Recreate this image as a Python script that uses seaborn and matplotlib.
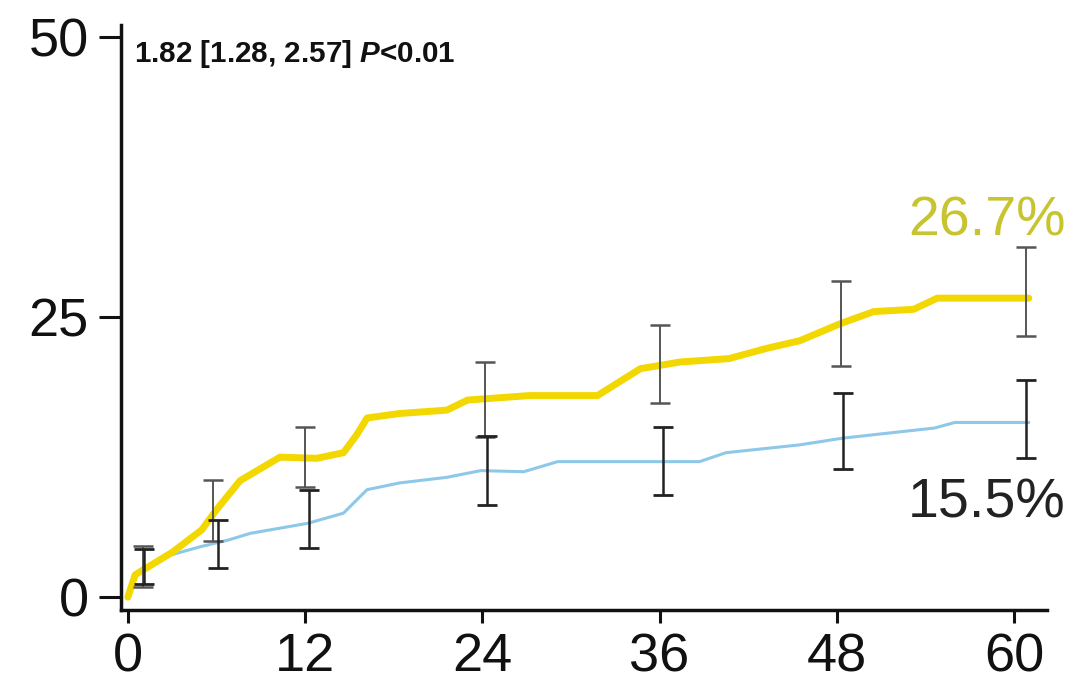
import matplotlib
matplotlib.use("Agg")
import matplotlib.pyplot as plt
import seaborn as sns
import pandas as pd

# --------------------------
# data (months, cumulative %)
# --------------------------
yellow_t = [0, 0.5, 1, 3, 5, 6, 7.6, 10.3, 12.8, 14.6, 15.5, 16.2, 18.4, 21.6, 23, 27.2,
            31.8, 34.7, 37.4, 40.7, 43.2, 45.5, 48.2, 50.5, 53.2, 54.8, 61]
yellow_v = [0, 2.0, 2.4, 4.0, 6.0, 7.8, 10.4, 12.5, 12.4, 12.9, 14.5, 16.0, 16.4, 16.7, 17.6, 18.0,
            18.0, 20.4, 21.0, 21.3, 22.2, 22.9, 24.4, 25.5, 25.7, 26.7, 26.7]

blue_t = [0, 0.5, 1, 3, 4.9, 6.8, 8.3, 12.2, 14.6, 16.2, 18.4, 21.6, 23.9, 26.8, 29.1,
          38.7, 40.5, 45.5, 48.4, 54.6, 56, 61]
blue_v = [0, 2.0, 2.6, 3.8, 4.5, 5.1, 5.7, 6.6, 7.5, 9.6, 10.2, 10.7, 11.3, 11.2, 12.1,
          12.1, 12.9, 13.6, 14.2, 15.1, 15.6, 15.6]

# confidence intervals at landmark times
yellow_ci_t = [1, 5.8, 12, 24.2, 36, 48.3, 60.8]
yellow_ci_mid = [2.6, 7.8, 12.4, 17.6, 20.8, 24.4, 27.3]
yellow_ci_lo = [0.9, 5.0, 9.8, 14.3, 17.3, 20.6, 23.3]
yellow_ci_hi = [4.6, 10.5, 15.2, 21.0, 24.3, 28.2, 31.3]

blue_ci_t = [1.1, 6.1, 12.3, 24.3, 36.2, 48.4, 60.8]
blue_ci_mid = [2.6, 4.8, 7.0, 11.3, 12.2, 14.8, 15.9]
blue_ci_lo = [1.2, 2.6, 4.4, 8.2, 9.1, 11.4, 12.4]
blue_ci_hi = [4.3, 6.9, 9.6, 14.4, 15.2, 18.2, 19.4]

x_ticks = [0, 12, 24, 36, 48, 60]
y_ticks = [0, 25, 50]

yellow_label = "26.7%"
blue_label = "15.5%"
hr_text = r"1.82 [1.28, 2.57] $\mathbfit{P}$<0.01"

# --------------------------
# style
# --------------------------
sns.set_style("ticks")
plt.rcParams['font.family'] = ['Liberation Sans', 'DejaVu Sans']
plt.rcParams['mathtext.fontset'] = 'custom'
plt.rcParams['mathtext.rm'] = 'Liberation Sans'
plt.rcParams['mathtext.it'] = 'Liberation Sans:italic'
plt.rcParams['mathtext.bf'] = 'Liberation Sans:bold'
plt.rcParams['mathtext.bfit'] = 'Liberation Sans:bold:italic'

yellow = "#f2d800"
blue = "#8ec8e8"

fig = plt.figure(figsize=(10.89, 6.91), dpi=100)
ax = fig.add_axes([0.111, 0.117, 0.850, 0.847])

df_y = pd.DataFrame({'t': yellow_t, 'v': yellow_v})
df_b = pd.DataFrame({'t': blue_t, 'v': blue_v})

sns.lineplot(data=df_b, x='t', y='v', color=blue, linewidth=2.2, ax=ax)
sns.lineplot(data=df_y, x='t', y='v', color=yellow, linewidth=5, ax=ax)

yerr_y = [[m - l for m, l in zip(yellow_ci_mid, yellow_ci_lo)],
          [h - m for m, h in zip(yellow_ci_mid, yellow_ci_hi)]]
yerr_b = [[m - l for m, l in zip(blue_ci_mid, blue_ci_lo)],
          [h - m for m, h in zip(blue_ci_mid, blue_ci_hi)]]
ax.errorbar(yellow_ci_t, yellow_ci_mid, yerr=yerr_y, fmt='none', ecolor='#555555',
            elinewidth=1.4, capsize=7, capthick=1.8)
ax.errorbar(blue_ci_t, blue_ci_mid, yerr=yerr_b, fmt='none', ecolor='#222222',
            elinewidth=1.8, capsize=7, capthick=2)

ax.text(0.4, 49.9, hr_text, fontsize=21.3, fontweight='bold', va='top', ha='left',
        color='#111111')
ax.text(63.5, 32.3, yellow_label, fontsize=40, color='#c8c430', ha='right', va='baseline',
        clip_on=False)
ax.text(63.5, 7.1, blue_label, fontsize=40, color='#222222', ha='right', va='baseline',
        clip_on=False)

ax.set_xlim(-0.47, 62.2)
ax.set_ylim(-1.16, 51.1)
ax.set_xticks(x_ticks)
ax.set_yticks(y_ticks)
ax.set_xlabel("")
ax.set_ylabel("")
sns.despine(ax=ax)
for s in ['left', 'bottom']:
    ax.spines[s].set_linewidth(2.5)
    ax.spines[s].set_color('#111111')
ax.tick_params(axis='both', width=2.2, colors='#111111', labelsize=39)
ax.tick_params(axis='x', length=9, pad=7)
ax.tick_params(axis='y', length=16, pad=7)

plt.savefig("out.png", dpi=100)
